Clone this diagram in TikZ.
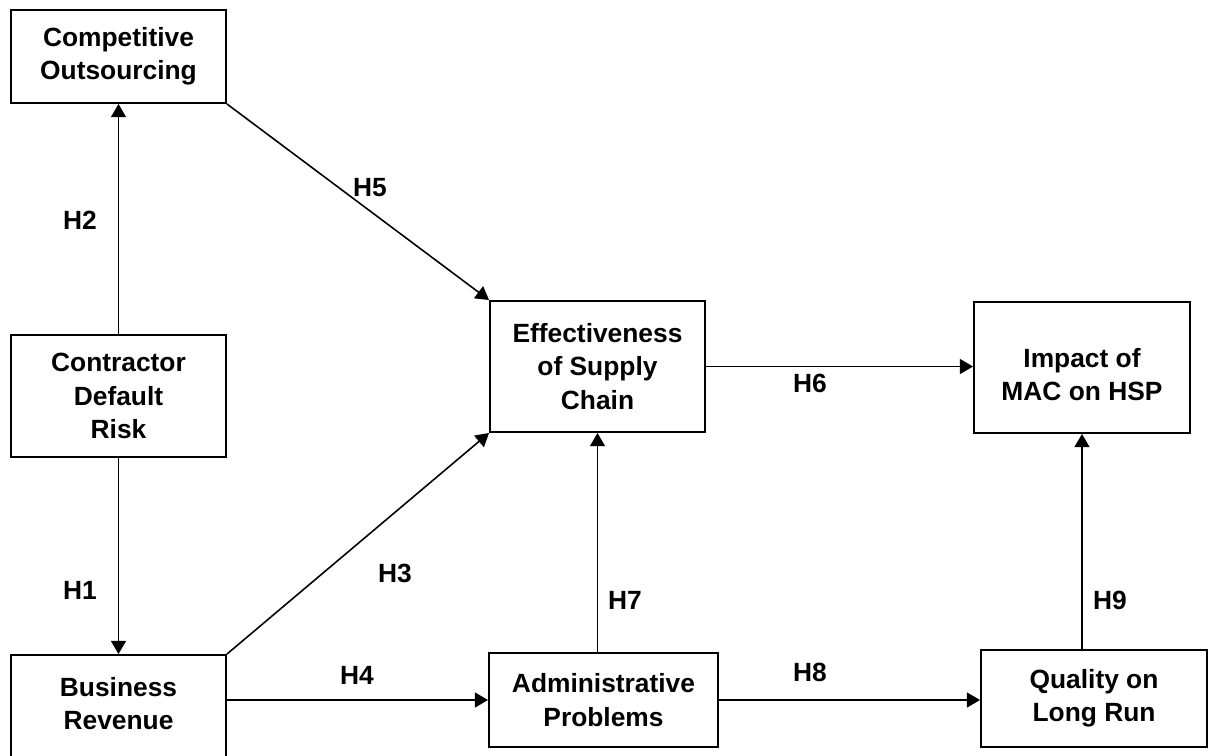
\documentclass[tikz,border=0pt]{standalone}
\usepackage{fontspec}
\setmainfont{Liberation Sans}
\usetikzlibrary{arrows.meta}

\begin{document}
\begin{tikzpicture}[x=0.02cm, y=-0.02cm, font=\bfseries\fontsize{15}{19}\selectfont,
  box/.style={draw, line width=1.1pt, align=center, inner sep=0pt},
  link/.style={-{Triangle[length=7.5pt, width=8.5pt]}, line width=0.9pt},
  hyp/.style={inner sep=0pt}]
  % 1 unit = 1 pixel of the 1209 x 755 frame, y grows downwards
  \clip (0,0) rectangle (1209,755);
  \node[box, minimum width=4.3cm, minimum height=1.86cm] (co) at (118.5,56.5) {Competitive\\Outsourcing};
  \node[box, minimum width=4.3cm, minimum height=2.44cm] (cdr) at (118.5,396) {Contractor\\Default\\Risk};
  \node[box, minimum width=4.3cm, minimum height=2.6cm] (br) at (118.5,720) {Business\\Revenue\\\mbox{}};
  \node[box, minimum width=4.3cm, minimum height=2.62cm] (esc) at (597.5,366.5) {Effectiveness\\of Supply\\Chain};
  \node[box, minimum width=4.58cm, minimum height=1.88cm] (ap) at (603.5,700) {Administrative\\Problems};
  \node[box, minimum width=4.32cm, minimum height=2.62cm] (imh) at (1082,367.5) {\mbox{}\\Impact of\\MAC on HSP};
  \node[box, minimum width=4.52cm, minimum height=1.94cm] (qlr) at (1094,698.5) {Quality on\\Long Run};
  % hypotheses
  \draw[link] (cdr) -- (co);
  \draw[link] (cdr) -- (br);
  \draw[link] (co.south east) -- (esc.north west);
  \draw[link] (br.north east) -- (esc.south west);
  \draw[link] (br.east |- ap.west) -- (ap.west);
  \draw[link] (esc.east) -- (esc.east -| imh.west);
  \draw[link] (ap.north -| esc.south) -- (esc.south);
  \draw[link] (ap.east) -- (ap.east -| qlr.west);
  \draw[link] (qlr.north -| imh.south) -- (imh.south);
  \node[hyp] (h2) at (80,220) {H2};
  \node[hyp] (h1) at (80,590) {H1};
  \node[hyp] (h5) at (370,188) {H5};
  \node[hyp] (h3) at (395,573) {H3};
  \node[hyp] (h4) at (357,675) {H4};
  \node[hyp] (h6) at (810,383) {H6};
  \node[hyp] (h7) at (625,600) {H7};
  \node[hyp] (h8) at (810,672) {H8};
  \node[hyp] (h9) at (1110,600) {H9};
\end{tikzpicture}
\end{document}
